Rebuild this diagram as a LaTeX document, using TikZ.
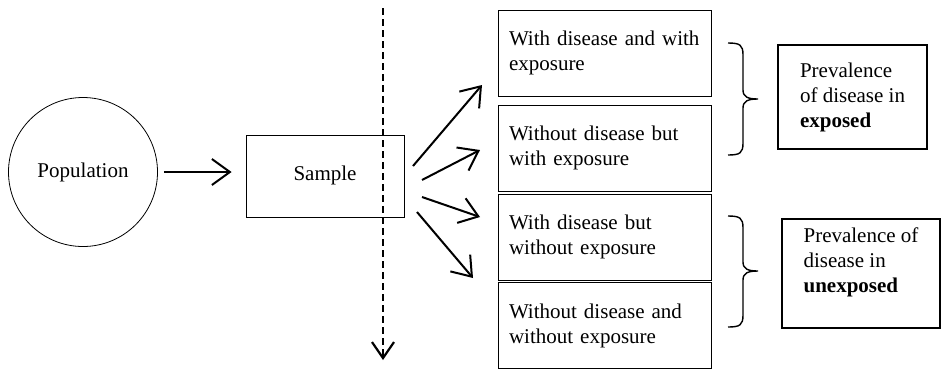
\documentclass[tikz,border=0pt]{standalone}
\usepackage{fontspec}
\setmainfont{Liberation Serif}
\usetikzlibrary{arrows.meta}
\begin{document}
\begin{tikzpicture}[x=1pt,y=-1pt,
  every node/.style={font=\fontsize{21}{25}\selectfont},
  flow/.style={line width=2pt,-{Straight Barb[length=18pt,width=26pt,line width=2pt]}},
  thinbox/.style={draw,line width=0.8pt,rectangle,inner sep=0pt},
  groupbox/.style={thinbox,minimum width=213pt,minimum height=86pt,text width=191pt,align=left},
  resultbox/.style={draw,line width=1.6pt,rectangle,inner sep=0pt,align=left},
  bracestroke/.style={line width=1.4pt}]
  \useasboundingbox (0,0) rectangle (944,376);

  % population and sample
  \node[draw,circle,line width=0.8pt,minimum size=149pt,inner sep=0pt] (pop) at (83,172) {Population};
  \node[thinbox,minimum width=158pt,minimum height=82pt] (sample) at (325,176) {\raisebox{6pt}{Sample}};
  \draw[flow,shorten <=6pt,shorten >=14pt] (pop.east |- 0,172) coordinate (popout) -- (sample.west |- popout);

  % vertical dashed time line
  \coordinate (lineTop) at (383,8);
  \coordinate (lineEnd) at (383,360);
  \draw[line width=2.6pt,dash pattern=on 6.5pt off 4.5pt,-{Straight Barb[length=16pt,width=22pt,line width=2.2pt]}] (lineTop) -- (lineEnd);

  % four groups
  \node[groupbox] (g1) at (604.5,53) {With disease and with\\exposure};
  \node[groupbox] (g2) at (604.5,148) {Without disease but\\with exposure};
  \node[groupbox] (g3) at (604.5,237) {With disease but\\without exposure};
  \node[groupbox] (g4) at (604.5,325.5) {Without disease and\\without exposure};

  % arrows fanning out of the sample
  \coordinate (s1) at (413,166); \coordinate (e1) at (482,85);
  \coordinate (s2) at (422,180); \coordinate (e2) at (480,150);
  \coordinate (s3) at (422,197); \coordinate (e3) at (480,217);
  \coordinate (s4) at (417,212); \coordinate (e4) at (473,278);
  \draw[flow] (s1) -- (e1);
  \draw[flow] (s2) -- (e2);
  \draw[flow] (s3) -- (e3);
  \draw[flow] (s4) -- (e4);

  % braces grouping the exposed and the unexposed
  \draw[bracestroke] (728,43) .. controls (740,43) and (743,45) .. (743,55)
    -- (743,90) .. controls (743,97) and (748,99) .. (758,99)
    .. controls (748,99) and (743,101) .. (743,108)
    -- (743,143) .. controls (743,153) and (740,155) .. (728,155);
  \draw[bracestroke] (728,216) .. controls (740,216) and (743,218) .. (743,228)
    -- (743,262) .. controls (743,269) and (748,271) .. (758,271)
    .. controls (748,271) and (743,273) .. (743,280)
    -- (743,315) .. controls (743,325) and (740,327) .. (728,327);

  % prevalence results
  \node[resultbox,minimum width=149pt,minimum height=104pt] (p1) at (852.5,97) {Prevalence\\of disease in\\\textbf{exposed}};
  \node[resultbox,minimum width=158pt,minimum height=109pt] (p2) at (861,273.5) {Prevalence of\\disease in\\\textbf{unexposed}\\[-6pt]\strut};
\end{tikzpicture}
\end{document}
